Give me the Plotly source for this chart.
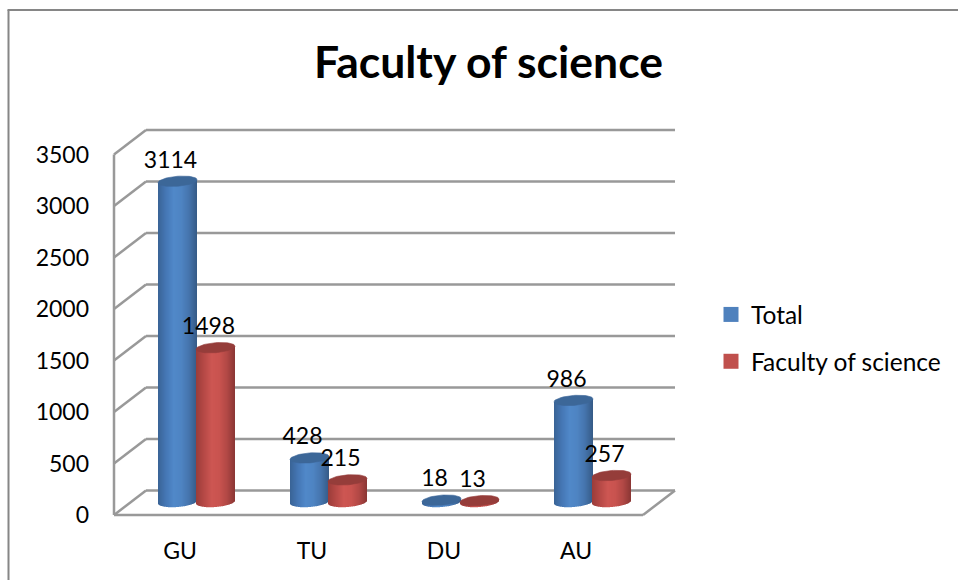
import numpy as np
import plotly.graph_objects as go

categories = ["GU", "TU", "DU", "AU"]
total = [3114, 428, 18, 986]
science = [1498, 215, 13, 257]
y_ticks = [0, 500, 1000, 1500, 2000, 2500, 3000, 3500]
series_names = ["Total", "Faculty of science"]
title_text = "Faculty of science"

FONT = "Lato, Carlito, Calibri, sans-serif"
W, H = 958, 580
L, R, T, B = 110, 680, 125, 520   # plot area pixels
PX_X = 132.0      # pixels per category
PX_Y = 0.103      # pixels per value unit
xrange_ = [(L - 180) / PX_X, (R - 180) / PX_X]
yrange_ = [-(B - 515) / PX_Y, (515 - T) / PX_Y]


def dx(px):
    return px / PX_X


def dy(px):
    return px / PX_Y


GRID = "#999999"
BLUE_RAMP = [(0x3A, 0x64, 0x97), (0x45, 0x77, 0xB5), (0x50, 0x88, 0xC9),
             (0x4E, 0x84, 0xC2), (0x45, 0x74, 0xAD), (0x36, 0x5C, 0x88)]
RED_RAMP = [(0x9C, 0x3D, 0x3A), (0xB6, 0x49, 0x46), (0xCD, 0x56, 0x52),
            (0xC9, 0x53, 0x4F), (0xB2, 0x48, 0x45), (0x8C, 0x37, 0x35)]
series = [
    dict(name=series_names[0], vals=total, dxc=-2.5, ramp=BLUE_RAMP, cap="#3C6798", swatch="#4F81BD"),
    dict(name=series_names[1], vals=science, dxc=35.5, ramp=RED_RAMP, cap="#953D3A", swatch="#C0504D"),
]

STRIP = 1.0      # px
N_STRIPS = 39
A, CAP_B, TILT = 19.5, 5.0, 1.5  # ellipse half-axes and tilt, px
FLOOR = dy(13)   # bar foot sits 13 px above the front edge


def ramp_color(ramp, f):
    p = f * (len(ramp) - 1)
    k = min(int(p), len(ramp) - 2)
    w = p - k
    c = [round(ramp[k][j] * (1 - w) + ramp[k + 1][j] * w) for j in range(3)]
    return f"rgb({c[0]},{c[1]},{c[2]})"


fig = go.Figure()
xs = list(range(len(categories)))

# cylinders: vertical strips reproduce the shading
for s in series:
    for i in range(N_STRIPS):
        left = s["dxc"] - N_STRIPS * STRIP / 2 + i * STRIP
        u = (left + STRIP / 2 - s["dxc"]) / A
        u = max(-1, min(1, u))
        bases = [FLOOR - dy(CAP_B * np.sqrt(1 - u * u) - TILT * u)] * len(xs)
        tops = [v + FLOOR + dy(TILT * u) for v in s["vals"]]
        fig.add_trace(go.Bar(
            x=xs, y=[t - b for t, b in zip(tops, bases)], base=bases,
            width=dx(STRIP), offset=dx(left),
            marker=dict(color=ramp_color(s["ramp"], i / (N_STRIPS - 1)), line=dict(width=0)),
            showlegend=False, hoverinfo="skip"))

# caps
t = np.linspace(0, 2 * np.pi, 61)
for s in series:
    for xi, v in zip(xs, s["vals"]):
        ex = xi + dx(s["dxc"]) + dx(A) * np.cos(t)
        ey = v + FLOOR + dy(CAP_B * np.sin(t) + TILT * np.cos(t))
        fig.add_trace(go.Scatter(
            x=ex, y=ey, mode="lines", fill="toself", fillcolor=s["cap"],
            line=dict(width=0.6, color=s["cap"]), showlegend=False, hoverinfo="skip"))

# value labels
for s in series:
    fig.add_trace(go.Scatter(
        x=[xi + dx(s["dxc"] - 7) for xi in xs],
        y=[v + FLOOR + dy(19.5) for v in s["vals"]],
        mode="text", text=[str(v) for v in s["vals"]], textposition="middle center",
        textfont=dict(family=FONT, size=23, color="#000000"),
        showlegend=False, hoverinfo="skip", cliponaxis=False))

# legend entries
for s in series:
    fig.add_trace(go.Scatter(
        x=[None], y=[None], mode="markers", name=s["name"], legendgroup=s["name"],
        marker=dict(symbol="square", size=15, color=s["swatch"])))

# 3D frame
back_dx = dx(32)
back_dy = dy(24.5)
x_front_l = dx(114 - 180)
x_front_r = dx(643 - 180)
x_back_l = x_front_l + back_dx
x_back_r = dx(675 - 180)
shapes = []


def seg(x0, y0, x1, y1, xref="x", yref="y", color=GRID, width=2.5):
    shapes.append(dict(type="line", xref=xref, yref=yref, x0=x0, y0=y0, x1=x1, y1=y1,
                       layer="below", line=dict(color=color, width=width)))


for v in y_ticks:
    seg(x_front_l, v, x_back_l, v + back_dy)
    seg(x_back_l, v + back_dy, x_back_r, v + back_dy)
seg(x_front_l, 0, x_front_l, y_ticks[-1])
seg(x_front_l, 0, x_front_r, 0)
seg(x_front_r, 0, x_back_r, back_dy)


# outer frame of the picture
def px(p):
    return (p - L) / (R - L)


def py(p):
    return (B - p) / (B - T)


seg(px(8.5), py(582), px(8.5), py(10), "paper", "paper", "#868686", 2)
seg(px(7.5), py(10), px(960), py(10), "paper", "paper", "#868686", 2)

fig.update_layout(
    width=W, height=H, autosize=False,
    margin=dict(l=L, r=W - R, t=T, b=H - B, pad=0),
    paper_bgcolor="#FFFFFF", plot_bgcolor="rgba(0,0,0,0)",
    barmode="overlay", shapes=shapes,
    font=dict(family=FONT, color="#000000"),
    title=dict(text=title_text, xref="container", yref="container",
               x=488.5 / W, y=1 - 62 / H, xanchor="center", yanchor="middle",
               font=dict(family=FONT, size=44.5, color="#000000", weight="bold")),
    xaxis=dict(range=xrange_, tickmode="array", tickvals=xs, ticktext=categories,
               showgrid=False, zeroline=False, showline=False, ticks="",
               ticklabelstandoff=15, tickfont=dict(family=FONT, size=23)),
    yaxis=dict(range=yrange_, tickmode="array", tickvals=y_ticks,
               ticktext=[str(v) for v in y_ticks],
               showgrid=False, zeroline=False, showline=False, ticks="",
               ticklabelstandoff=20, tickfont=dict(family=FONT, size=23)),
    legend=dict(x=px(711), y=py(292), xanchor="left", yanchor="top",
                bgcolor="rgba(0,0,0,0)", borderwidth=0, tracegroupgap=12,
                font=dict(family=FONT, size=24.5)),
)

fig.write_html("out.html", config=dict(displayModeBar=False),
               post_script="document.body.style.margin='0';document.body.style.overflow='hidden';")
